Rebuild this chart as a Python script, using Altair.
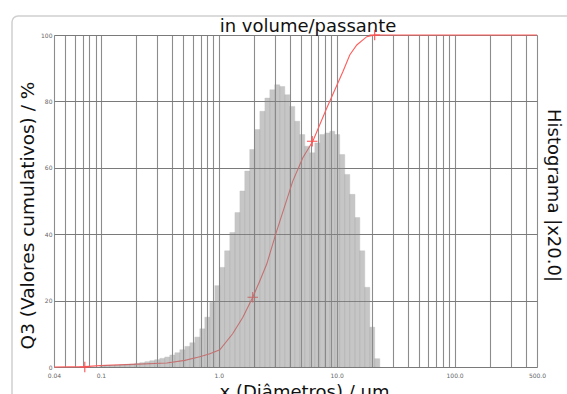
import altair as alt
import pandas as pd

# Histogram classes (µm) and heights (histogram x20, same 0-100 scale)
bin_edges_um = [0.098, 0.108, 0.119, 0.131, 0.145, 0.160, 0.176, 0.194, 0.214, 0.236,
                0.260, 0.286, 0.316, 0.348, 0.384, 0.424, 0.467, 0.515, 0.568, 0.626,
                0.690, 0.761, 0.839, 0.925, 1.02, 1.12, 1.24, 1.37, 1.51, 1.66,
                1.83, 2.02, 2.23, 2.46, 2.71, 2.98, 3.29, 3.63, 4.00, 4.41,
                4.86, 5.36, 5.91, 6.52, 7.19, 7.93, 8.74, 9.64, 10.6, 11.7,
                12.9, 14.3, 15.7, 17.3, 19.1, 21.0, 23.2]
hist_values = [0.4, 0.5, 0.5, 0.6, 0.7, 0.8, 0.9, 1.1, 1.3, 1.6,
               1.9, 2.2, 2.6, 3.0, 3.6, 4.3, 5.2, 6.2, 7.3, 9.0,
               11.5, 15.0, 19.5, 24.5, 30, 35, 40.5, 46.5, 53, 59,
               65.5, 71.5, 77, 81, 83.5, 85, 84.5, 82, 78.5, 74,
               70, 66.5, 64.5, 67.5, 70, 70.5, 71, 70, 64, 58,
               52, 45, 35, 24, 12, 2.5]

# Cumulative passing curve Q3
cum_size_um = [0.04, 0.073, 0.098, 0.187, 0.362, 0.515, 0.690, 0.839, 1.02, 1.31,
               1.60, 1.94, 2.23, 2.55, 3.10, 4.24, 5.16, 6.27, 8.24, 11.3,
               12.9, 14.8, 18.0, 21.0, 500]
cum_passing = [0, 0.1, 0.4, 0.8, 1.2, 2.0, 3.1, 4.0, 5.2, 10,
               15, 21, 26, 31, 41, 56, 63, 68, 78, 89,
               94, 97, 99.5, 100, 100]

# Cross markers on the curve
marker_size_um = [0.073, 1.94, 6.2, 21.0]
marker_passing = [0, 21, 68, 100]

# Axis ticks / grid
x_grid_values = [0.04, 0.05, 0.06, 0.07, 0.08, 0.09,
                 0.1, 0.2, 0.3, 0.4, 0.5, 0.6, 0.7, 0.8, 0.9,
                 1, 2, 3, 4, 5, 6, 7, 8, 9,
                 10, 20, 30, 40, 50, 60, 70, 80, 90,
                 100, 200, 300, 400, 500]
x_label_values = [0.04, 0.1, 1, 10, 100, 500]
y_grid_values = [0, 10, 20, 30, 40, 50, 60, 70, 80, 90, 100]

chart_title = "in volume/passante"

hist_df = pd.DataFrame({"lo": bin_edges_um[:-1], "hi": bin_edges_um[1:], "h": hist_values})
cum_df = pd.DataFrame({"x": cum_size_um, "q": cum_passing})
mk_df = pd.DataFrame({"x": marker_size_um, "q": marker_passing})

FONT = "DejaVu Sans"
TXT = "#111"
xscale = alt.Scale(type="log", domain=[0.04, 500], nice=False)
yscale = alt.Scale(domain=[0, 100], nice=False)

lbl_list = "[" + ",".join(str(v) for v in x_label_values) + "]"
x_axis = alt.Axis(
    values=x_grid_values,
    labelExpr=f"indexof({lbl_list}, datum.value) >= 0 ? (datum.value < 0.1 ? format(datum.value, '.2f') : datum.value == 0.1 ? '0.1' : format(datum.value, '.1f')) : ''",
    labelOverlap=False, labelFlush=False,
    labelFontSize=6, labelColor="#666", labelFont=FONT, labelPadding=5,
    ticks=False, domain=False,
    grid=True, gridColor="#8c8c8c", gridWidth=1.1,
    title="x (Diâmetros) / um", titleFont=FONT, titleFontSize=18, titleFontWeight="normal",
    titleColor=TXT, titleX=250, titleY=30, titleBaseline="alphabetic",
)
y_axis = alt.Axis(
    values=y_grid_values,
    labelExpr="datum.value % 20 == 0 ? datum.label : ''",
    labelFontSize=6, labelColor="#666", labelFont=FONT, labelPadding=2,
    ticks=False, domain=False,
    grid=True, gridColor="#7a7a7a", gridWidth=1.2,
    title="Q3 (Valores cumulativos) / %", titleFont=FONT, titleFontSize=18.5,
    titleFontWeight="normal", titleColor=TXT,
    titleX=-27, titleY=180, titleAngle=270, titleAlign="center", titleBaseline="middle",
)
y_axis_right = alt.Axis(
    orient="right", labels=False, ticks=False, domain=False, grid=False,
    title="Histograma |x20.0|", titleFont=FONT, titleFontSize=18,
    titleFontWeight="normal", titleColor=TXT,
    titleX=15, titleY=160, titleAngle=90, titleAlign="center", titleBaseline="middle",
)

frame = alt.Chart(pd.DataFrame({"k": [0]})).mark_rect(
    fill="white", fillOpacity=0, stroke="#cfcfcf", strokeWidth=1.5, cornerRadius=6
).encode(x=alt.value(-42), x2=alt.value(640), y=alt.value(-19), y2=alt.value(440))

title_mark = alt.Chart(pd.DataFrame({"t": [chart_title]})).mark_text(
    font=FONT, fontSize=18, color=TXT, align="center", baseline="alphabetic"
).encode(text="t:N", x=alt.value(254), y=alt.value(-3))

base_line = alt.Chart(cum_df).mark_line(color="#ff5c5c", strokeWidth=1.1).encode(
    x=alt.X("x:Q", scale=xscale, axis=x_axis),
    y=alt.Y("q:Q", scale=yscale, axis=y_axis),
)

hist = alt.Chart(hist_df).mark_bar(
    color="#8a8a8a", opacity=0.48, stroke="#7a7a7a", strokeWidth=0.4
).encode(
    x=alt.X("lo:Q", scale=xscale),
    x2="hi:Q",
    y=alt.Y("h:Q", scale=yscale, axis=y_axis_right),
    y2=alt.datum(0),
)

marks = alt.Chart(mk_df).mark_point(
    shape="M-1,0H1M0,-1V1", size=110, filled=False, color="#ff4d4d", strokeWidth=1.1, opacity=1
).encode(
    x=alt.X("x:Q", scale=xscale),
    y=alt.Y("q:Q", scale=yscale),
)

left = alt.layer(base_line, marks)
chart = alt.layer(frame, title_mark, left, hist).resolve_scale(y="independent").properties(
    width=483, height=332,
    autosize=alt.AutoSizeParams(type="none"),
    padding={"left": 54, "top": 35, "right": 30, "bottom": 27},
).configure_view(stroke=None).configure(background="white")

chart.save("out.html", embed_options={"renderer": "svg", "actions": False})
